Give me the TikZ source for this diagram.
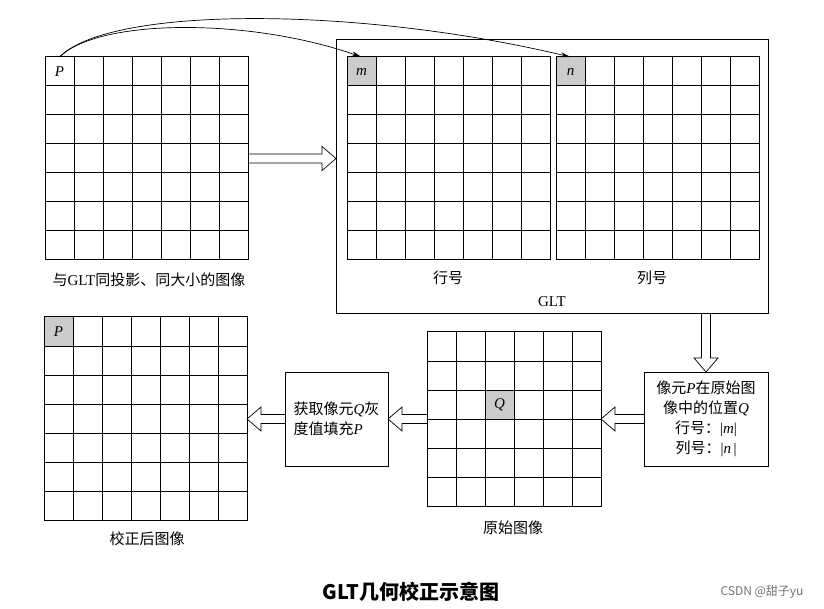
\documentclass[tikz,border=0pt]{standalone}
\usepackage{fontspec}
\setmainfont{Liberation Serif}
\newfontfamily\cjk{Noto Sans CJK SC}
\usetikzlibrary{arrows.meta,calc}

\newcommand{\pvar}[1]{{\rmfamily\itshape #1}}
% image grid: name, left, top, cells
\newcommand{\pixgrid}[4]{%
  \node[gridframe, minimum width=#4*29pt, minimum height=#4*29pt, anchor=north west] (#1) at (#2,#3) {};
  \pgfmathtruncatemacro{\gridlast}{#4-1}
  \foreach \k in {1,...,\gridlast} {
    \draw[gridline] (#2+\k*29,#3) -- (#2+\k*29,#3+#4*29);
    \draw[gridline] (#2,#3+\k*29) -- (#2+#4*29,#3+\k*29);
  }
}
% hollow block arrow: tail, tip
\newcommand{\hollowarrow}[2]{%
  \coordinate (hb) at ($(#2)!14pt!(#1)$);
  \draw[hollowline] ($(#1)!4.5pt!90:(#2)$) -- ($(hb)!4.5pt!90:(#2)$) -- ($(hb)!12pt!90:(#2)$)
    -- (#2) -- ($(hb)!12pt!-90:(#2)$) -- ($(hb)!4.5pt!-90:(#2)$) -- ($(#1)!4.5pt!-90:(#2)$);
}

\begin{document}
\begin{tikzpicture}[x=1pt,y=-1pt,
    gridframe/.style={draw,line width=1pt,inner sep=0pt,outer sep=0pt},
    gridline/.style={line width=1pt},
    markcell/.style={draw,line width=1pt,fill=black!20,minimum size=29pt,inner sep=0pt,outer sep=0pt,
      anchor=north west,font=\fontsize{15}{18}\selectfont},
    boxframe/.style={draw,line width=1pt,inner sep=0pt,outer sep=0pt},
    procbox/.style={draw,line width=1pt,inner sep=0pt,outer sep=0pt,font=\fontsize{15}{20}\selectfont\cjk},
    imgcaption/.style={font=\fontsize{15}{18}\selectfont\cjk},
    hollowline/.style={line width=0.7pt,line join=miter},
    linkarrow/.style={line width=0.7pt,-{Stealth[length=10pt,width=5pt]}}]
  \useasboundingbox (0,0) rectangle (824,609);

  % top row
  \pixgrid{imgA}{45}{57}{7}
  \node[markcell,fill=none] (pA) at (45,57) {\textit{P}};
  \node[imgcaption] (capA) at (149,280) {与{\rmfamily GLT}同投影、同大小的图像};

  \node[boxframe,minimum width=432pt,minimum height=274pt,anchor=north west] (glt) at (336,40) {};
  \pixgrid{rowimg}{347}{57}{7}
  \pixgrid{colimg}{556}{57}{7}
  \node[markcell] (mcell) at (347,57) {\textit{m}};
  \node[markcell] (ncell) at (556,57) {\textit{n}};
  \node[imgcaption] (rowcap) at (448,278) {行号};
  \node[imgcaption] (colcap) at (652,278) {列号};
  \node[imgcaption] (gltcap) at (552,302) {\rmfamily GLT};

  % bottom row
  \pixgrid{orig}{427}{332}{6}
  \node[markcell] (qcell) at (485,390) {\textit{Q}};
  \node[imgcaption] (origcap) at (513,528) {原始图像};

  \pixgrid{corr}{44}{317}{7}
  \node[markcell] (pC) at (44,317) {\textit{P}};
  \node[imgcaption] (corrcap) at (147,539) {校正后图像};

  \node[procbox,minimum width=103pt,minimum height=94pt,align=left] (fillbox) at (336.5,419)
    {获取像元\pvar{Q}灰\\度值填充\pvar{P}};
  \node[procbox,minimum width=124pt,minimum height=94pt,align=center] (locbox) at (706,419)
    {像元\pvar{P}在原始图\\像中的位置\pvar{Q}\\行号：\rmfamily|\itshape m\upshape|\\\cjk 列号：\rmfamily|\itshape n\upshape\,|};

  % connectors
  \draw[linkarrow] (pA.north) .. controls +(40,-39) and +(-111,-39) .. (mcell.north);
  \draw[linkarrow] (pA.north) .. controls +(50,-51) and +(-214,-51) .. (ncell.north);

  \coordinate (tipA) at (glt.west |- imgA.east);
  \hollowarrow{imgA.east}{tipA}
  \coordinate (tailL) at (glt.south -| locbox.north);
  \hollowarrow{tailL}{locbox.north}
  \coordinate (tipO) at (orig.east |- locbox.west);
  \hollowarrow{locbox.west}{tipO}
  \coordinate (tailO) at (orig.west |- fillbox.east);
  \hollowarrow{tailO}{fillbox.east}
  \coordinate (tipC) at (corr.east |- fillbox.west);
  \hollowarrow{fillbox.west}{tipC}

  \node[font=\fontsize{20}{24}\selectfont\cjk\bfseries] (title) at (411,592) {GLT几何校正示意图};
  \node[font=\fontsize{12}{14}\selectfont\cjk,text=black!55] (mark) at (762,592) {CSDN @甜子yu};
\end{tikzpicture}
\end{document}
